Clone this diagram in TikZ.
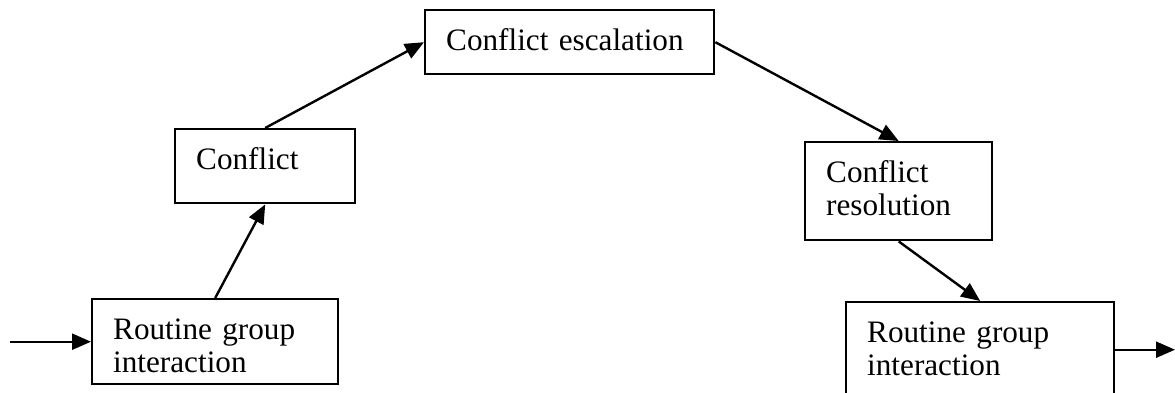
\documentclass[tikz,border=0pt]{standalone}
\usepackage{fontspec}
\setmainfont{Liberation Serif}
\usepackage{tikz}
\usetikzlibrary{arrows.meta}
\newcommand{\stagefont}{\fontsize{15.6pt}{16.6pt}\selectfont}

\begin{document}
\begin{tikzpicture}[x=0.5pt, y=-0.5pt]
\tikzset{stage/.style={draw, line width=1.2pt, anchor=north west, align=left, inner xsep=10.5pt, inner ysep=0pt, text height=20pt, font=\stagefont}}
\tikzset{flow/.style={line width=1.2pt, -{Triangle[length=9.5pt, width=8pt]}}}
\useasboundingbox (0,0) rectangle (1175,392);
\node[stage, text width=102pt, text depth=22.5pt] (routine) at (91,298) {Routine group\\interaction};
\node[stage, text width=69pt, text depth=17pt] (conflict) at (174,128) {Conflict};
\node[stage, text width=123.5pt, text depth=12pt] (escalation) at (424,9) {Conflict escalation};
\node[stage, text width=72.5pt, text depth=29pt] (resolution) at (804,141) {Conflict\\resolution};
\node[stage, text width=113pt, text depth=27.5pt] (routinetwo) at (845,301) {Routine group\\interaction};
\coordinate (start) at (routine.west -| 10,0);
\coordinate (finish) at (routinetwo.east -| 1175,0);
\draw[flow] (start) -- (routine.west);
\draw[flow] (routine.north) -- (conflict.south);
\draw[flow] (conflict.north) -- (escalation.west);
\draw[flow] (escalation.east) -- (resolution.north);
\draw[flow] (resolution.south) -- (routinetwo.north);
\draw[flow] (routinetwo.east) -- (finish);
\end{tikzpicture}
\end{document}
